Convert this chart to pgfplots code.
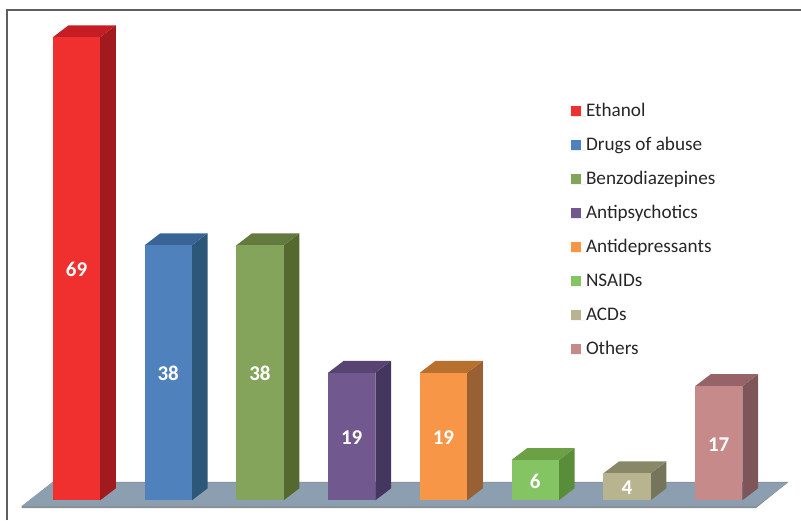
\documentclass[border=0pt]{standalone}
\usepackage{fontspec}
\setmainfont{Carlito}
\usepackage{pgfplots}
\pgfplotsset{compat=1.18}

% bar half width and the depth of the oblique projection, in axis units
\def\hw{0.258}
\def\dx{0.171}
\def\dy{1.788}

\definecolor{framegray}{HTML}{5E5E5E}
\definecolor{floorblue}{HTML}{8C9FB1}
\definecolor{flooredge}{HTML}{8A8D90}
\definecolor{inktext}{HTML}{262626}

% front, side and top shades for each bar
\definecolor{aF}{HTML}{F0302E}\definecolor{aS}{HTML}{A01A1E}\definecolor{aT}{HTML}{C41E24}
\definecolor{bF}{HTML}{4F81BD}\definecolor{bS}{HTML}{2C5779}\definecolor{bT}{HTML}{386595}
\definecolor{cF}{HTML}{84A45C}\definecolor{cS}{HTML}{54682F}\definecolor{cT}{HTML}{627A3E}
\definecolor{dF}{HTML}{71598F}\definecolor{dS}{HTML}{453660}\definecolor{dT}{HTML}{584473}
\definecolor{eF}{HTML}{F79646}\definecolor{eS}{HTML}{996033}\definecolor{eT}{HTML}{B8702F}
\definecolor{fF}{HTML}{85C463}\definecolor{fS}{HTML}{5A8D3A}\definecolor{fT}{HTML}{6BA045}
\definecolor{gF}{HTML}{B9B490}\definecolor{gS}{HTML}{75755C}\definecolor{gT}{HTML}{888868}
\definecolor{hF}{HTML}{C78A8A}\definecolor{hS}{HTML}{7E5558}\definecolor{hT}{HTML}{966468}

% front: real bar; side and top: parallelograms offset by the depth
% #1 position, #2 value, #3 colour prefix, #4 legend text
\newcommand{\prismbar}[4]{%
  \pgfmathsetmacro\xl{#1-\hw}%
  \pgfmathsetmacro\xr{#1+\hw}%
  \pgfmathsetmacro\xlb{\xl+\dx}%
  \pgfmathsetmacro\xrb{\xr+\dx}%
  \pgfmathsetmacro\yb{#2+\dy}%
  \edef\sidefaces{%
    \noexpand\addplot[forget plot,fill=#3S,draw=none] coordinates {(\xr,0) (\xrb,\dy) (\xrb,\yb) (\xr,#2)} --cycle;
    \noexpand\addplot[forget plot,fill=#3T,draw=none] coordinates {(\xl,#2) (\xlb,\yb) (\xrb,\yb) (\xr,#2)} --cycle;
  }%
  \sidefaces
  \addplot[ybar,bar width=47.3pt,bar shift=0pt,fill=#3F,draw=none,swatch] coordinates {(#1,#2)};
  \addlegendentry{#4}
  \node[text=white,yshift=-1pt,font=\fontsize{21}{21}\bfseries\selectfont] at (axis cs:#1,{#2/2}) {#2};
}

\begin{document}
\begin{tikzpicture}[x=1pt,y=1pt]
\path[use as bounding box] (0,0) rectangle (801,520);
\begin{axis}[
  at={(0pt,0pt)},anchor=south west,
  scale only axis,width=801pt,height=520pt,
  hide axis,
  xmin=-0.8339,xmax=7.8974,
  ymin=-2.936,ymax=74.56,
  clip=true,
  swatch/.style={legend image code/.code={\path (0pt,0pt) -- (15pt,0pt);\fill[##1] (0pt,1pt) rectangle (10pt,11pt);}},
  legend cell align=left,
  legend style={
    at={(axis cs:-0.8339,74.56)},
    xshift=571pt,yshift=-106pt,
    anchor=north west,draw=none,fill=none,inner sep=0pt,outer sep=0pt,
    font=\fontsize{19.2}{19.2}\selectfont,text=inktext,
    row sep=18pt,
    nodes={inner xsep=0pt,inner ysep=0pt,text height=11pt,text depth=5pt,anchor=base west},
  },
]
% floor slab with its darker lower rim
\addplot[forget plot,fill=flooredge,draw=none] coordinates {(-0.599,-0.893) (-0.261,2.73) (7.76,2.73) (7.407,-1.16) (-0.599,-1.16)} --cycle;
\addplot[forget plot,fill=floorblue,draw=none] coordinates {(-0.599,-0.893) (-0.261,2.65) (7.756,2.65) (7.407,-0.893)} --cycle;

\prismbar{0}{69}{a}{Ethanol}
\prismbar{1}{38}{b}{Drugs of abuse}
\prismbar{2}{38}{c}{Benzodiazepines}
\prismbar{3}{19}{d}{Antipsychotics}
\prismbar{4}{19}{e}{Antidepressants}
\prismbar{5}{6}{f}{NSAIDs}
\prismbar{6}{4}{g}{ACDs}
\prismbar{7}{17}{h}{Others}

% outer frame, open at the right and the bottom
\draw[framegray,line width=2pt] (rel axis cs:0.00812,0) -- (rel axis cs:0.00812,0.9808) -- (rel axis cs:1,0.9808);
\end{axis}
\end{tikzpicture}
\end{document}
